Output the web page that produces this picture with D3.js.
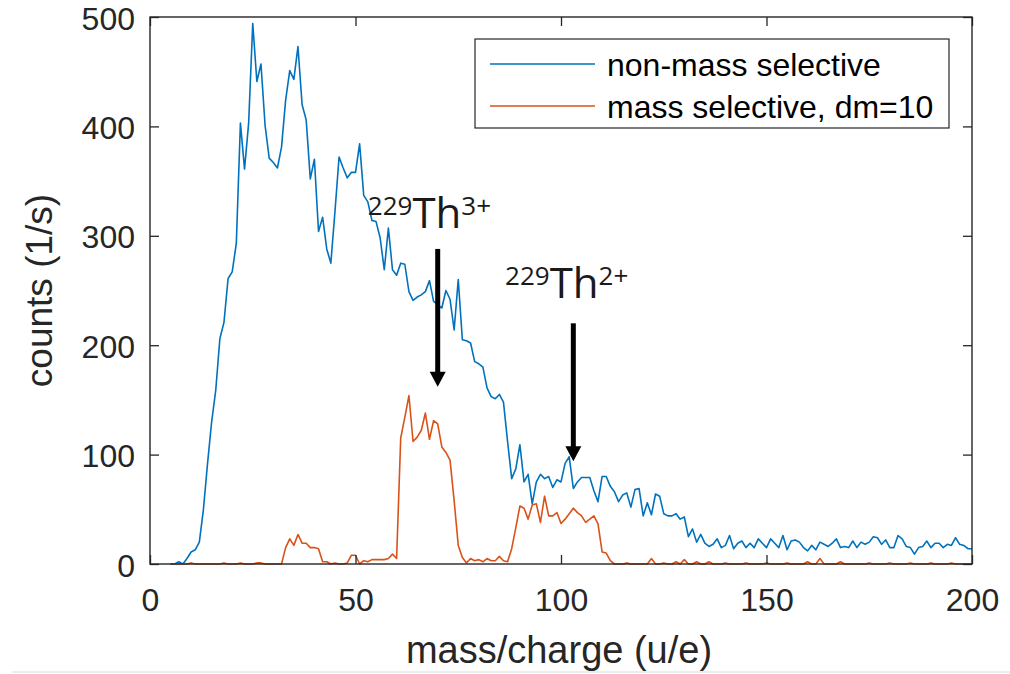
<!DOCTYPE html>
<html>
<head>
<meta charset="utf-8">
<script src="https://cdn.jsdelivr.net/npm/d3@7"></script>
<style>
  body { margin: 0; background: #fff; }
  svg { display: block; }
</style>
</head>
<body>
<svg width="1010" height="674"></svg>
<script>
const W = 1010, H = 674;
const margin = {left: 150, top: 17, right: 38, bottom: 110};

// mass/charge axis, 1 u/e steps from 5 to 200
const massStart = 5;
const nonMassSelective = [
  0, 0, 2, 0, 5, 11, 13, 20, 50, 92,
  130, 159, 206, 221, 261, 267, 293, 403, 361, 403,
  494, 441, 457, 401, 371, 367, 362, 381, 424, 451,
  443, 473, 420, 406, 352, 370, 304, 317, 288, 275,
  322, 372, 362, 353, 358, 358, 384, 337, 331, 314,
  313, 298, 269, 307, 269, 264, 275, 274, 249, 241,
  244, 246, 249, 259, 240, 237, 234, 250, 242, 214,
  260, 205, 204, 202, 185, 183, 180, 161, 153, 151,
  155, 148, 112, 78, 87, 109, 75, 82, 55, 75,
  82, 78, 80, 70, 77, 75, 92, 98, 69, 75,
  79, 79, 79, 67, 57, 80, 80, 71, 66, 57,
  63, 65, 52, 68, 69, 44, 56, 45, 64, 62,
  46, 44, 44, 46, 41, 43, 25, 32, 20, 27,
  19, 16, 18, 23, 15, 17, 26, 14, 19, 21,
  15, 19, 15, 23, 19, 15, 23, 19, 15, 26,
  13, 21, 22, 20, 15, 12, 17, 13, 20, 18,
  16, 19, 23, 15, 16, 15, 21, 15, 20, 18,
  20, 25, 24, 18, 22, 15, 15, 26, 23, 16,
  15, 9, 15, 16, 21, 15, 19, 19, 15, 18,
  17, 24, 18, 17, 14, 14
];
const massSelective = [
  0, 0, 0, 0, 0, 1, 0, 0, 0, 0,
  0, 0, 0, 1, 0, 0, 0, 1, 0, 0,
  0, 1, 1, 0, 0, 0, 0, 0, 15, 23,
  17, 27, 19, 19, 15, 15, 14, 2, 2, 0,
  1, 0, 0, 1, 8, 8, 0, 3, 2, 4,
  4, 4, 4, 5, 9, 5, 115, 134, 154, 112,
  116, 122, 138, 114, 131, 128, 107, 102, 95, 58,
  17, 6, 1, 5, 3, 4, 2, 5, 3, 3,
  7, 3, 2, 14, 33, 53, 51, 41, 54, 55,
  38, 62, 44, 44, 47, 37, 41, 46, 51, 47,
  44, 38, 41, 44, 37, 11, 10, 3, 0, 0,
  0, 1, 0, 0, 0, 0, 0, 5, 0, 0,
  1, 0, 0, 2, 0, 4, 0, 0, 2, 0,
  0, 2, 0, 0, 0, 1, 0, 0, 0, 0,
  1, 0, 0, 0, 0, 1, 0, 0, 0, 0,
  1, 0, 0, 0, 0, 2, 0, 0, 5, 0,
  0, 0, 0, 2, 0, 0, 0, 0, 0, 0,
  1, 0, 0, 0, 0, 1, 0, 0, 0, 0,
  1, 0, 0, 0, 0, 1, 0, 0, 0, 0,
  1, 0, 0, 0, 0, 0
];

const seriesNames = ['non-mass selective', 'mass selective, dm=10'];
const seriesColors = ['#0072BD', '#D95319'];
const xTicks = [0, 50, 100, 150, 200];
const yTicks = [0, 100, 200, 300, 400, 500];

// peak labels: isotope, charge, label anchor and arrow (data coords)
const peakMass = ['229', '229'];
const peakCharge = ['3+', '2+'];
const peakLabelX = [53, 86.4];
const peakLabelY = [307, 243];
const arrowX = [70, 103];
const arrowTop = [288, 220];
const arrowTip = [162, 94];

const svg = d3.select("svg");
const iw = W - margin.left - margin.right;
const ih = H - margin.top - margin.bottom;

const xScale = d3.scaleLinear().domain([0, 200]).range([0, iw]);
const yScale = d3.scaleLinear().domain([0, 500]).range([ih, 0]);

// faint frame line along the bottom of the picture
svg.append("line")
  .attr("x1", 12).attr("x2", W).attr("y1", 672).attr("y2", 672)
  .attr("stroke", "#ececec").attr("stroke-width", 2);

const g = svg.append("g").attr("transform", `translate(${margin.left},${margin.top})`);

const toPoints = vals => vals.map((v, i) => [massStart + i, v]);
const line = d3.line().x(d => xScale(d[0])).y(d => yScale(d[1]));

g.selectAll("path.series")
  .data([toPoints(nonMassSelective), toPoints(massSelective)])
  .join("path")
  .attr("class", "series")
  .attr("d", line)
  .attr("fill", "none")
  .attr("stroke", (d, i) => seriesColors[i])
  .attr("stroke-width", 1.6)
  .attr("stroke-linejoin", "round");

// axes, MATLAB style: ticks inside on all four sides
const axisColor = '#262626';
const tickFont = '"Liberation Sans", Arial, Helvetica, sans-serif';

const styleAxis = sel => {
  sel.select(".domain").remove();
  sel.selectAll(".tick line").attr("stroke", axisColor).attr("stroke-width", 1.3);
  sel.selectAll(".tick text").attr("fill", axisColor)
    .style("font-family", tickFont).style("font-size", "32px");
};

g.append("g").attr("transform", `translate(0,${ih})`)
  .call(d3.axisBottom(xScale).tickValues(xTicks).tickSizeInner(-9).tickSizeOuter(0).tickPadding(24))
  .call(styleAxis);
g.append("g")
  .call(d3.axisLeft(yScale).tickValues(yTicks).tickSizeInner(-9).tickSizeOuter(0).tickPadding(15))
  .call(styleAxis)
  .selectAll(".tick text").attr("dy", "0.38em");
g.append("g")
  .call(d3.axisTop(xScale).tickValues(xTicks).tickSizeInner(-9).tickSizeOuter(0).tickFormat(""))
  .call(styleAxis);
g.append("g").attr("transform", `translate(${iw},0)`)
  .call(d3.axisRight(yScale).tickValues(yTicks).tickSizeInner(-9).tickSizeOuter(0).tickFormat(""))
  .call(styleAxis);

g.append("rect")
  .attr("width", iw).attr("height", ih)
  .attr("fill", "none").attr("stroke", axisColor).attr("stroke-width", 1.4);

// axis labels
svg.append("text")
  .attr("x", margin.left + iw / 2 - 2).attr("y", 663)
  .attr("text-anchor", "middle")
  .attr("fill", axisColor)
  .style("font-family", tickFont).style("font-size", "38px")
  .text("mass/charge (u/e)");

svg.append("text")
  .attr("transform", `translate(52,${margin.top + ih / 2}) rotate(-90)`)
  .attr("text-anchor", "middle")
  .attr("fill", axisColor)
  .style("font-family", tickFont).style("font-size", "37px")
  .text("counts (1/s)");

// legend
const legend = svg.append("g");
legend.append("rect")
  .attr("x", 475).attr("y", 39).attr("width", 474).attr("height", 89)
  .attr("fill", "#fff").attr("stroke", axisColor).attr("stroke-width", 1.2);

const rows = legend.selectAll("g.row")
  .data(seriesNames)
  .join("g")
  .attr("class", "row")
  .attr("transform", (d, i) => `translate(490,${64 + i * 42})`);
rows.append("line")
  .attr("x1", 0).attr("x2", 105)
  .attr("stroke", (d, i) => seriesColors[i]).attr("stroke-width", 1.6);
rows.append("text")
  .attr("x", 117).attr("dy", "0.36em")
  .attr("fill", "#000")
  .style("font-family", tickFont).style("font-size", "32px")
  .text(d => d);

// peak annotations
const notes = g.selectAll("g.note")
  .data(peakMass.map((m, i) => i))
  .join("g")
  .attr("class", "note");

const labels = notes.append("text")
  .attr("x", i => xScale(peakLabelX[i]))
  .attr("y", i => yScale(peakLabelY[i]))
  .attr("fill", "#1a1a1a")
  .style("font-family", '"Open Sans", "Noto Sans", sans-serif');
labels.append("tspan").style("font-size", "26px").attr("dy", -13).text(i => peakMass[i]);
labels.append("tspan").style("font-size", "42px").attr("dy", 13).text("Th");
labels.append("tspan").style("font-size", "26px").attr("dy", -13).text(i => peakCharge[i]);

notes.append("line")
  .attr("x1", i => xScale(arrowX[i])).attr("x2", i => xScale(arrowX[i]))
  .attr("y1", i => yScale(arrowTop[i]))
  .attr("y2", i => yScale(arrowTip[i]) - 12)
  .attr("stroke", "#000").attr("stroke-width", 5);
notes.append("path")
  .attr("d", i => {
    const x = xScale(arrowX[i]), y = yScale(arrowTip[i]);
    return `M${x - 8},${y - 15}L${x + 8},${y - 15}L${x},${y}Z`;
  })
  .attr("fill", "#000");
</script>
</body>
</html>
